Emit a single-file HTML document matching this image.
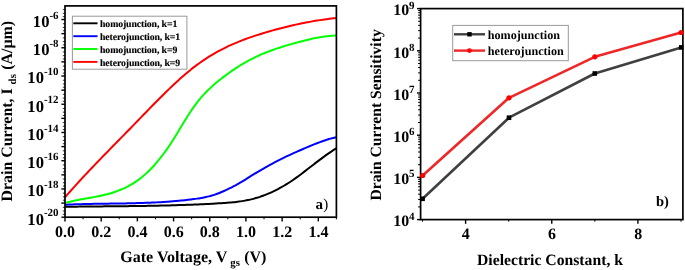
<!DOCTYPE html><html><head><meta charset="utf-8"><title>chart</title>
<style>html,body{margin:0;padding:0;background:#fff}svg{display:block;will-change:transform}text{font-family:"Liberation Serif",serif;font-weight:bold;fill:#000;text-rendering:geometricPrecision}</style></head><body>
<svg width="685" height="270" viewBox="0 0 685 270">
<rect width="685" height="270" fill="#fff"/>
<clipPath id="cl"><rect x="65.00" y="5.90" width="272.20" height="211.30"/></clipPath>
<g clip-path="url(#cl)" fill="none" stroke-width="2" stroke-linejoin="round">
<path d="M65.00,206.81 C65.50,206.80 67.00,206.77 68.00,206.76 C69.00,206.75 70.00,206.73 71.00,206.72 C72.00,206.71 73.00,206.69 74.00,206.68 C75.00,206.67 76.00,206.65 77.00,206.64 C78.00,206.63 79.00,206.62 80.00,206.61 C81.00,206.60 82.00,206.58 83.00,206.57 C84.00,206.56 85.00,206.55 86.00,206.54 C87.00,206.53 88.00,206.52 89.00,206.51 C90.00,206.50 91.00,206.49 92.00,206.48 C93.00,206.47 94.00,206.46 95.00,206.45 C96.00,206.44 97.00,206.43 98.00,206.42 C99.00,206.41 100.00,206.40 101.00,206.39 C102.00,206.38 103.00,206.38 104.00,206.37 C105.00,206.36 106.00,206.35 107.00,206.34 C108.00,206.33 109.00,206.32 110.00,206.31 C111.00,206.30 112.00,206.29 113.00,206.28 C114.00,206.27 115.00,206.26 116.00,206.25 C117.00,206.24 118.00,206.23 119.00,206.22 C120.00,206.21 121.00,206.20 122.00,206.19 C123.00,206.18 124.00,206.17 125.00,206.16 C126.00,206.15 127.00,206.14 128.00,206.13 C129.00,206.12 130.00,206.10 131.00,206.09 C132.00,206.08 133.00,206.06 134.00,206.05 C135.00,206.04 136.00,206.02 137.00,206.01 C138.00,206.00 139.00,205.98 140.00,205.97 C141.00,205.96 142.00,205.94 143.00,205.93 C144.00,205.92 145.00,205.90 146.00,205.88 C147.00,205.86 148.00,205.85 149.00,205.83 C150.00,205.81 151.00,205.80 152.00,205.78 C153.00,205.76 154.00,205.74 155.00,205.72 C156.00,205.70 157.00,205.68 158.00,205.66 C159.00,205.64 160.00,205.62 161.00,205.60 C162.00,205.58 163.00,205.55 164.00,205.53 C165.00,205.51 166.00,205.49 167.00,205.46 C168.00,205.44 169.00,205.41 170.00,205.38 C171.00,205.35 172.00,205.33 173.00,205.30 C174.00,205.27 175.00,205.24 176.00,205.21 C177.00,205.18 178.00,205.15 179.00,205.12 C180.00,205.09 181.00,205.05 182.00,205.02 C183.00,204.99 184.00,204.95 185.00,204.92 C186.00,204.88 187.00,204.85 188.00,204.81 C189.00,204.77 190.00,204.74 191.00,204.70 C192.00,204.66 193.00,204.62 194.00,204.58 C195.00,204.54 196.00,204.49 197.00,204.45 C198.00,204.41 199.00,204.36 200.00,204.32 C201.00,204.28 202.00,204.23 203.00,204.18 C204.00,204.13 205.00,204.08 206.00,204.03 C207.00,203.98 208.00,203.93 209.00,203.88 C210.00,203.83 211.00,203.78 212.00,203.72 C213.00,203.66 214.00,203.61 215.00,203.55 C216.00,203.49 217.00,203.43 218.00,203.37 C219.00,203.31 220.00,203.25 221.00,203.19 C222.00,203.13 223.00,203.06 224.00,202.99 C225.00,202.92 226.00,202.86 227.00,202.78 C228.00,202.70 229.00,202.62 230.00,202.53 C231.00,202.44 232.00,202.36 233.00,202.26 C234.00,202.16 235.00,202.05 236.00,201.93 C237.00,201.81 238.00,201.69 239.00,201.56 C240.00,201.43 241.00,201.28 242.00,201.13 C243.00,200.97 244.00,200.81 245.00,200.63 C246.00,200.45 247.00,200.26 248.00,200.06 C249.00,199.86 250.00,199.63 251.00,199.40 C252.00,199.17 253.00,198.92 254.00,198.65 C255.00,198.38 256.00,198.11 257.00,197.81 C258.00,197.51 259.00,197.20 260.00,196.86 C261.00,196.53 262.00,196.17 263.00,195.80 C264.00,195.43 265.00,195.05 266.00,194.65 C267.00,194.25 268.00,193.84 269.00,193.41 C270.00,192.98 271.00,192.52 272.00,192.06 C273.00,191.60 274.00,191.12 275.00,190.63 C276.00,190.14 277.00,189.63 278.00,189.10 C279.00,188.57 280.00,188.03 281.00,187.47 C282.00,186.91 283.00,186.34 284.00,185.75 C285.00,185.16 286.00,184.55 287.00,183.93 C288.00,183.31 289.00,182.67 290.00,182.01 C291.00,181.35 292.00,180.68 293.00,179.99 C294.00,179.30 295.00,178.60 296.00,177.88 C297.00,177.16 298.00,176.43 299.00,175.69 C300.00,174.95 301.00,174.20 302.00,173.44 C303.00,172.68 304.00,171.92 305.00,171.15 C306.00,170.38 307.00,169.61 308.00,168.83 C309.00,168.06 310.00,167.28 311.00,166.50 C312.00,165.72 313.00,164.94 314.00,164.17 C315.00,163.40 316.00,162.62 317.00,161.86 C318.00,161.10 319.00,160.34 320.00,159.59 C321.00,158.84 322.00,158.09 323.00,157.36 C324.00,156.63 325.00,155.90 326.00,155.19 C327.00,154.48 328.00,153.78 329.00,153.09 C330.00,152.41 331.00,151.74 332.00,151.08 C333.00,150.43 334.23,149.64 335.00,149.16 C335.77,148.68 336.33,148.34 336.60,148.18" stroke="#000"/>
<path d="M65.00,204.73 C65.50,204.71 67.00,204.64 68.00,204.60 C69.00,204.56 70.00,204.51 71.00,204.47 C72.00,204.43 73.00,204.40 74.00,204.36 C75.00,204.33 76.00,204.29 77.00,204.26 C78.00,204.23 79.00,204.20 80.00,204.17 C81.00,204.14 82.00,204.12 83.00,204.09 C84.00,204.06 85.00,204.04 86.00,204.02 C87.00,204.00 88.00,203.97 89.00,203.95 C90.00,203.93 91.00,203.91 92.00,203.89 C93.00,203.87 94.00,203.85 95.00,203.83 C96.00,203.81 97.00,203.80 98.00,203.78 C99.00,203.76 100.00,203.75 101.00,203.74 C102.00,203.73 103.00,203.70 104.00,203.69 C105.00,203.68 106.00,203.66 107.00,203.65 C108.00,203.64 109.00,203.62 110.00,203.61 C111.00,203.60 112.00,203.58 113.00,203.57 C114.00,203.56 115.00,203.54 116.00,203.52 C117.00,203.50 118.00,203.50 119.00,203.48 C120.00,203.46 121.00,203.45 122.00,203.43 C123.00,203.41 124.00,203.40 125.00,203.38 C126.00,203.36 127.00,203.34 128.00,203.32 C129.00,203.30 130.00,203.28 131.00,203.26 C132.00,203.24 133.00,203.22 134.00,203.19 C135.00,203.16 136.00,203.14 137.00,203.11 C138.00,203.08 139.00,203.06 140.00,203.03 C141.00,203.00 142.00,202.97 143.00,202.94 C144.00,202.91 145.00,202.87 146.00,202.83 C147.00,202.79 148.00,202.76 149.00,202.72 C150.00,202.68 151.00,202.63 152.00,202.59 C153.00,202.55 154.00,202.50 155.00,202.45 C156.00,202.40 157.00,202.35 158.00,202.30 C159.00,202.25 160.00,202.19 161.00,202.13 C162.00,202.07 163.00,202.00 164.00,201.94 C165.00,201.88 166.00,201.81 167.00,201.74 C168.00,201.67 169.00,201.61 170.00,201.53 C171.00,201.45 172.00,201.37 173.00,201.29 C174.00,201.21 175.00,201.12 176.00,201.03 C177.00,200.94 178.00,200.85 179.00,200.76 C180.00,200.66 181.00,200.56 182.00,200.46 C183.00,200.36 184.00,200.25 185.00,200.14 C186.00,200.03 187.00,199.92 188.00,199.80 C189.00,199.68 190.00,199.56 191.00,199.44 C192.00,199.31 193.00,199.19 194.00,199.05 C195.00,198.92 196.00,198.78 197.00,198.63 C198.00,198.48 199.00,198.34 200.00,198.18 C201.00,198.02 202.00,197.84 203.00,197.66 C204.00,197.47 205.00,197.28 206.00,197.07 C207.00,196.86 208.00,196.63 209.00,196.38 C210.00,196.13 211.00,195.86 212.00,195.57 C213.00,195.28 214.00,194.95 215.00,194.61 C216.00,194.27 217.00,193.90 218.00,193.51 C219.00,193.12 220.00,192.71 221.00,192.29 C222.00,191.87 223.00,191.42 224.00,190.97 C225.00,190.52 226.00,190.05 227.00,189.57 C228.00,189.09 229.00,188.61 230.00,188.11 C231.00,187.62 232.00,187.11 233.00,186.60 C234.00,186.09 235.00,185.59 236.00,185.06 C237.00,184.53 238.00,183.99 239.00,183.43 C240.00,182.87 241.00,182.29 242.00,181.68 C243.00,181.07 244.00,180.43 245.00,179.79 C246.00,179.15 247.00,178.48 248.00,177.83 C249.00,177.19 250.00,176.55 251.00,175.92 C252.00,175.29 253.00,174.68 254.00,174.07 C255.00,173.46 256.00,172.87 257.00,172.28 C258.00,171.69 259.00,171.10 260.00,170.52 C261.00,169.94 262.00,169.36 263.00,168.79 C264.00,168.22 265.00,167.65 266.00,167.09 C267.00,166.53 268.00,165.96 269.00,165.41 C270.00,164.86 271.00,164.31 272.00,163.77 C273.00,163.23 274.00,162.69 275.00,162.16 C276.00,161.63 277.00,161.11 278.00,160.60 C279.00,160.09 280.00,159.59 281.00,159.09 C282.00,158.59 283.00,158.10 284.00,157.62 C285.00,157.14 286.00,156.66 287.00,156.19 C288.00,155.72 289.00,155.25 290.00,154.79 C291.00,154.33 292.00,153.88 293.00,153.43 C294.00,152.98 295.00,152.53 296.00,152.09 C297.00,151.65 298.00,151.22 299.00,150.78 C300.00,150.34 301.00,149.91 302.00,149.48 C303.00,149.05 304.00,148.62 305.00,148.20 C306.00,147.77 307.00,147.35 308.00,146.93 C309.00,146.51 310.00,146.08 311.00,145.67 C312.00,145.25 313.00,144.84 314.00,144.44 C315.00,144.03 316.00,143.63 317.00,143.24 C318.00,142.85 319.00,142.47 320.00,142.10 C321.00,141.73 322.00,141.36 323.00,141.01 C324.00,140.66 325.00,140.31 326.00,139.99 C327.00,139.67 328.00,139.36 329.00,139.06 C330.00,138.76 331.00,138.47 332.00,138.21 C333.00,137.95 334.23,137.66 335.00,137.48 C335.77,137.30 336.33,137.19 336.60,137.13" stroke="#0000ff"/>
<path d="M65.00,203.01 C65.50,202.87 67.00,202.45 68.00,202.19 C69.00,201.93 70.00,201.69 71.00,201.45 C72.00,201.21 73.00,201.00 74.00,200.78 C75.00,200.56 76.00,200.36 77.00,200.16 C78.00,199.96 79.00,199.76 80.00,199.57 C81.00,199.38 82.00,199.20 83.00,199.02 C84.00,198.84 85.00,198.66 86.00,198.48 C87.00,198.30 88.00,198.13 89.00,197.95 C90.00,197.77 91.00,197.59 92.00,197.41 C93.00,197.23 94.00,197.05 95.00,196.86 C96.00,196.67 97.00,196.47 98.00,196.27 C99.00,196.07 100.00,195.87 101.00,195.65 C102.00,195.43 103.00,195.20 104.00,194.97 C105.00,194.74 106.00,194.50 107.00,194.24 C108.00,193.98 109.00,193.71 110.00,193.42 C111.00,193.13 112.00,192.84 113.00,192.52 C114.00,192.20 115.00,191.87 116.00,191.52 C117.00,191.17 118.00,190.81 119.00,190.42 C120.00,190.03 121.00,189.62 122.00,189.19 C123.00,188.76 124.00,188.31 125.00,187.83 C126.00,187.35 127.00,186.85 128.00,186.32 C129.00,185.79 130.00,185.24 131.00,184.66 C132.00,184.08 133.00,183.48 134.00,182.84 C135.00,182.20 136.00,181.53 137.00,180.83 C138.00,180.13 139.00,179.39 140.00,178.63 C141.00,177.87 142.00,177.07 143.00,176.24 C144.00,175.41 145.00,174.54 146.00,173.63 C147.00,172.72 148.00,171.78 149.00,170.80 C150.00,169.82 151.00,168.80 152.00,167.74 C153.00,166.69 154.00,165.60 155.00,164.47 C156.00,163.34 157.00,162.17 158.00,160.96 C159.00,159.75 160.00,158.52 161.00,157.24 C162.00,155.96 163.00,154.64 164.00,153.28 C165.00,151.92 166.00,150.53 167.00,149.10 C168.00,147.67 169.00,146.20 170.00,144.69 C171.00,143.18 172.00,141.63 173.00,140.06 C174.00,138.49 175.00,136.87 176.00,135.24 C177.00,133.61 178.00,131.95 179.00,130.30 C180.00,128.65 181.00,126.98 182.00,125.33 C183.00,123.68 184.00,122.02 185.00,120.39 C186.00,118.77 187.00,117.15 188.00,115.58 C189.00,114.01 190.00,112.45 191.00,110.95 C192.00,109.45 193.00,108.00 194.00,106.60 C195.00,105.20 196.00,103.86 197.00,102.57 C198.00,101.28 199.00,100.03 200.00,98.84 C201.00,97.65 202.00,96.51 203.00,95.40 C204.00,94.29 205.00,93.23 206.00,92.20 C207.00,91.17 208.00,90.18 209.00,89.22 C210.00,88.26 211.00,87.33 212.00,86.43 C213.00,85.53 214.00,84.66 215.00,83.81 C216.00,82.96 217.00,82.13 218.00,81.32 C219.00,80.51 220.00,79.71 221.00,78.93 C222.00,78.15 223.00,77.38 224.00,76.63 C225.00,75.88 226.00,75.13 227.00,74.40 C228.00,73.67 229.00,72.95 230.00,72.24 C231.00,71.53 232.00,70.84 233.00,70.16 C234.00,69.48 235.00,68.81 236.00,68.16 C237.00,67.51 238.00,66.87 239.00,66.24 C240.00,65.61 241.00,64.99 242.00,64.39 C243.00,63.79 244.00,63.21 245.00,62.63 C246.00,62.05 247.00,61.49 248.00,60.94 C249.00,60.39 250.00,59.85 251.00,59.33 C252.00,58.81 253.00,58.30 254.00,57.81 C255.00,57.32 256.00,56.83 257.00,56.36 C258.00,55.89 259.00,55.44 260.00,55.00 C261.00,54.56 262.00,54.12 263.00,53.70 C264.00,53.28 265.00,52.88 266.00,52.48 C267.00,52.08 268.00,51.69 269.00,51.31 C270.00,50.93 271.00,50.57 272.00,50.21 C273.00,49.85 274.00,49.50 275.00,49.16 C276.00,48.82 277.00,48.48 278.00,48.15 C279.00,47.82 280.00,47.50 281.00,47.19 C282.00,46.88 283.00,46.56 284.00,46.26 C285.00,45.95 286.00,45.66 287.00,45.36 C288.00,45.06 289.00,44.78 290.00,44.49 C291.00,44.20 292.00,43.92 293.00,43.64 C294.00,43.36 295.00,43.09 296.00,42.81 C297.00,42.54 298.00,42.26 299.00,41.99 C300.00,41.72 301.00,41.45 302.00,41.19 C303.00,40.93 304.00,40.66 305.00,40.41 C306.00,40.16 307.00,39.91 308.00,39.67 C309.00,39.43 310.00,39.19 311.00,38.96 C312.00,38.73 313.00,38.51 314.00,38.30 C315.00,38.09 316.00,37.88 317.00,37.69 C318.00,37.50 319.00,37.31 320.00,37.14 C321.00,36.97 322.00,36.80 323.00,36.65 C324.00,36.50 325.00,36.36 326.00,36.24 C327.00,36.12 328.00,36.00 329.00,35.91 C330.00,35.81 331.00,35.73 332.00,35.67 C333.00,35.61 334.23,35.55 335.00,35.52 C335.77,35.49 336.33,35.50 336.60,35.49" stroke="#00ff00"/>
<path d="M65.00,197.28 C65.50,196.71 67.00,194.98 68.00,193.85 C69.00,192.72 70.00,191.59 71.00,190.47 C72.00,189.35 73.00,188.23 74.00,187.12 C75.00,186.01 76.00,184.91 77.00,183.81 C78.00,182.71 79.00,181.62 80.00,180.53 C81.00,179.44 82.00,178.37 83.00,177.29 C84.00,176.21 85.00,175.14 86.00,174.07 C87.00,173.00 88.00,171.95 89.00,170.89 C90.00,169.83 91.00,168.77 92.00,167.72 C93.00,166.67 94.00,165.62 95.00,164.58 C96.00,163.54 97.00,162.50 98.00,161.46 C99.00,160.42 100.00,159.39 101.00,158.36 C102.00,157.33 103.00,156.30 104.00,155.27 C105.00,154.24 106.00,153.22 107.00,152.19 C108.00,151.16 109.00,150.14 110.00,149.12 C111.00,148.10 112.00,147.08 113.00,146.06 C114.00,145.04 115.00,144.02 116.00,143.00 C117.00,141.98 118.00,140.96 119.00,139.94 C120.00,138.92 121.00,137.91 122.00,136.89 C123.00,135.87 124.00,134.85 125.00,133.83 C126.00,132.81 127.00,131.78 128.00,130.76 C129.00,129.74 130.00,128.72 131.00,127.69 C132.00,126.66 133.00,125.64 134.00,124.61 C135.00,123.58 136.00,122.55 137.00,121.52 C138.00,120.49 139.00,119.44 140.00,118.41 C141.00,117.38 142.00,116.34 143.00,115.31 C144.00,114.28 145.00,113.24 146.00,112.21 C147.00,111.18 148.00,110.15 149.00,109.12 C150.00,108.09 151.00,107.06 152.00,106.04 C153.00,105.02 154.00,104.00 155.00,102.98 C156.00,101.96 157.00,100.95 158.00,99.94 C159.00,98.93 160.00,97.94 161.00,96.94 C162.00,95.94 163.00,94.95 164.00,93.96 C165.00,92.97 166.00,91.99 167.00,91.02 C168.00,90.05 169.00,89.08 170.00,88.13 C171.00,87.17 172.00,86.23 173.00,85.29 C174.00,84.35 175.00,83.42 176.00,82.50 C177.00,81.58 178.00,80.66 179.00,79.76 C180.00,78.86 181.00,77.98 182.00,77.10 C183.00,76.22 184.00,75.36 185.00,74.50 C186.00,73.64 187.00,72.80 188.00,71.97 C189.00,71.14 190.00,70.32 191.00,69.52 C192.00,68.72 193.00,67.93 194.00,67.16 C195.00,66.39 196.00,65.63 197.00,64.89 C198.00,64.15 199.00,63.42 200.00,62.71 C201.00,62.00 202.00,61.30 203.00,60.62 C204.00,59.94 205.00,59.27 206.00,58.62 C207.00,57.97 208.00,57.33 209.00,56.70 C210.00,56.08 211.00,55.47 212.00,54.87 C213.00,54.27 214.00,53.69 215.00,53.12 C216.00,52.55 217.00,52.00 218.00,51.45 C219.00,50.90 220.00,50.36 221.00,49.84 C222.00,49.32 223.00,48.81 224.00,48.31 C225.00,47.81 226.00,47.32 227.00,46.84 C228.00,46.36 229.00,45.90 230.00,45.44 C231.00,44.98 232.00,44.53 233.00,44.09 C234.00,43.65 235.00,43.23 236.00,42.81 C237.00,42.39 238.00,41.97 239.00,41.57 C240.00,41.17 241.00,40.77 242.00,40.39 C243.00,40.01 244.00,39.63 245.00,39.26 C246.00,38.89 247.00,38.52 248.00,38.16 C249.00,37.80 250.00,37.45 251.00,37.11 C252.00,36.77 253.00,36.43 254.00,36.10 C255.00,35.77 256.00,35.44 257.00,35.12 C258.00,34.80 259.00,34.49 260.00,34.18 C261.00,33.87 262.00,33.56 263.00,33.26 C264.00,32.96 265.00,32.66 266.00,32.36 C267.00,32.06 268.00,31.78 269.00,31.49 C270.00,31.20 271.00,30.92 272.00,30.64 C273.00,30.36 274.00,30.08 275.00,29.81 C276.00,29.54 277.00,29.27 278.00,29.00 C279.00,28.73 280.00,28.48 281.00,28.22 C282.00,27.96 283.00,27.70 284.00,27.45 C285.00,27.20 286.00,26.95 287.00,26.71 C288.00,26.47 289.00,26.23 290.00,25.99 C291.00,25.75 292.00,25.52 293.00,25.29 C294.00,25.06 295.00,24.84 296.00,24.62 C297.00,24.40 298.00,24.18 299.00,23.97 C300.00,23.76 301.00,23.55 302.00,23.35 C303.00,23.15 304.00,22.94 305.00,22.74 C306.00,22.54 307.00,22.36 308.00,22.17 C309.00,21.98 310.00,21.80 311.00,21.62 C312.00,21.44 313.00,21.26 314.00,21.09 C315.00,20.92 316.00,20.75 317.00,20.59 C318.00,20.43 319.00,20.27 320.00,20.12 C321.00,19.97 322.00,19.82 323.00,19.67 C324.00,19.53 325.00,19.39 326.00,19.25 C327.00,19.11 328.00,18.99 329.00,18.86 C330.00,18.73 331.00,18.61 332.00,18.49 C333.00,18.37 334.23,18.23 335.00,18.15 C335.77,18.06 336.33,18.01 336.60,17.98" stroke="#ff0000"/>
</g>
<g stroke="#000">
<line x1="61.40" y1="217.20" x2="65.00" y2="217.20" stroke-width="1.4"/>
<line x1="62.80" y1="214.30" x2="65.00" y2="214.30" stroke-width="0.8"/>
<line x1="62.80" y1="211.00" x2="65.00" y2="211.00" stroke-width="0.8"/>
<line x1="62.80" y1="207.30" x2="65.00" y2="207.30" stroke-width="0.8"/>
<line x1="61.40" y1="203.08" x2="65.00" y2="203.08" stroke-width="1.4"/>
<line x1="62.80" y1="200.18" x2="65.00" y2="200.18" stroke-width="0.8"/>
<line x1="62.80" y1="196.88" x2="65.00" y2="196.88" stroke-width="0.8"/>
<line x1="62.80" y1="193.18" x2="65.00" y2="193.18" stroke-width="0.8"/>
<line x1="61.40" y1="188.96" x2="65.00" y2="188.96" stroke-width="1.4"/>
<line x1="62.80" y1="186.06" x2="65.00" y2="186.06" stroke-width="0.8"/>
<line x1="62.80" y1="182.76" x2="65.00" y2="182.76" stroke-width="0.8"/>
<line x1="62.80" y1="179.06" x2="65.00" y2="179.06" stroke-width="0.8"/>
<line x1="61.40" y1="174.84" x2="65.00" y2="174.84" stroke-width="1.4"/>
<line x1="62.80" y1="171.94" x2="65.00" y2="171.94" stroke-width="0.8"/>
<line x1="62.80" y1="168.64" x2="65.00" y2="168.64" stroke-width="0.8"/>
<line x1="62.80" y1="164.94" x2="65.00" y2="164.94" stroke-width="0.8"/>
<line x1="61.40" y1="160.72" x2="65.00" y2="160.72" stroke-width="1.4"/>
<line x1="62.80" y1="157.82" x2="65.00" y2="157.82" stroke-width="0.8"/>
<line x1="62.80" y1="154.52" x2="65.00" y2="154.52" stroke-width="0.8"/>
<line x1="62.80" y1="150.82" x2="65.00" y2="150.82" stroke-width="0.8"/>
<line x1="61.40" y1="146.60" x2="65.00" y2="146.60" stroke-width="1.4"/>
<line x1="62.80" y1="143.70" x2="65.00" y2="143.70" stroke-width="0.8"/>
<line x1="62.80" y1="140.40" x2="65.00" y2="140.40" stroke-width="0.8"/>
<line x1="62.80" y1="136.70" x2="65.00" y2="136.70" stroke-width="0.8"/>
<line x1="61.40" y1="132.48" x2="65.00" y2="132.48" stroke-width="1.4"/>
<line x1="62.80" y1="129.58" x2="65.00" y2="129.58" stroke-width="0.8"/>
<line x1="62.80" y1="126.28" x2="65.00" y2="126.28" stroke-width="0.8"/>
<line x1="62.80" y1="122.58" x2="65.00" y2="122.58" stroke-width="0.8"/>
<line x1="61.40" y1="118.36" x2="65.00" y2="118.36" stroke-width="1.4"/>
<line x1="62.80" y1="115.46" x2="65.00" y2="115.46" stroke-width="0.8"/>
<line x1="62.80" y1="112.16" x2="65.00" y2="112.16" stroke-width="0.8"/>
<line x1="62.80" y1="108.46" x2="65.00" y2="108.46" stroke-width="0.8"/>
<line x1="61.40" y1="104.24" x2="65.00" y2="104.24" stroke-width="1.4"/>
<line x1="62.80" y1="101.34" x2="65.00" y2="101.34" stroke-width="0.8"/>
<line x1="62.80" y1="98.04" x2="65.00" y2="98.04" stroke-width="0.8"/>
<line x1="62.80" y1="94.34" x2="65.00" y2="94.34" stroke-width="0.8"/>
<line x1="61.40" y1="90.12" x2="65.00" y2="90.12" stroke-width="1.4"/>
<line x1="62.80" y1="87.22" x2="65.00" y2="87.22" stroke-width="0.8"/>
<line x1="62.80" y1="83.92" x2="65.00" y2="83.92" stroke-width="0.8"/>
<line x1="62.80" y1="80.22" x2="65.00" y2="80.22" stroke-width="0.8"/>
<line x1="61.40" y1="76.00" x2="65.00" y2="76.00" stroke-width="1.4"/>
<line x1="62.80" y1="73.10" x2="65.00" y2="73.10" stroke-width="0.8"/>
<line x1="62.80" y1="69.80" x2="65.00" y2="69.80" stroke-width="0.8"/>
<line x1="62.80" y1="66.10" x2="65.00" y2="66.10" stroke-width="0.8"/>
<line x1="61.40" y1="61.88" x2="65.00" y2="61.88" stroke-width="1.4"/>
<line x1="62.80" y1="58.98" x2="65.00" y2="58.98" stroke-width="0.8"/>
<line x1="62.80" y1="55.68" x2="65.00" y2="55.68" stroke-width="0.8"/>
<line x1="62.80" y1="51.98" x2="65.00" y2="51.98" stroke-width="0.8"/>
<line x1="61.40" y1="47.76" x2="65.00" y2="47.76" stroke-width="1.4"/>
<line x1="62.80" y1="44.86" x2="65.00" y2="44.86" stroke-width="0.8"/>
<line x1="62.80" y1="41.56" x2="65.00" y2="41.56" stroke-width="0.8"/>
<line x1="62.80" y1="37.86" x2="65.00" y2="37.86" stroke-width="0.8"/>
<line x1="61.40" y1="33.64" x2="65.00" y2="33.64" stroke-width="1.4"/>
<line x1="62.80" y1="30.74" x2="65.00" y2="30.74" stroke-width="0.8"/>
<line x1="62.80" y1="27.44" x2="65.00" y2="27.44" stroke-width="0.8"/>
<line x1="62.80" y1="23.74" x2="65.00" y2="23.74" stroke-width="0.8"/>
<line x1="61.40" y1="19.52" x2="65.00" y2="19.52" stroke-width="1.4"/>
<line x1="62.80" y1="16.62" x2="65.00" y2="16.62" stroke-width="0.8"/>
<line x1="62.80" y1="13.32" x2="65.00" y2="13.32" stroke-width="0.8"/>
<line x1="62.80" y1="9.62" x2="65.00" y2="9.62" stroke-width="0.8"/>
<line x1="65.00" y1="217.20" x2="65.00" y2="221.40" stroke-width="1.4"/>
<line x1="83.09" y1="217.20" x2="83.09" y2="219.30" stroke-width="1.0"/>
<line x1="101.19" y1="217.20" x2="101.19" y2="221.40" stroke-width="1.4"/>
<line x1="119.28" y1="217.20" x2="119.28" y2="219.30" stroke-width="1.0"/>
<line x1="137.37" y1="217.20" x2="137.37" y2="221.40" stroke-width="1.4"/>
<line x1="155.47" y1="217.20" x2="155.47" y2="219.30" stroke-width="1.0"/>
<line x1="173.56" y1="217.20" x2="173.56" y2="221.40" stroke-width="1.4"/>
<line x1="191.65" y1="217.20" x2="191.65" y2="219.30" stroke-width="1.0"/>
<line x1="209.75" y1="217.20" x2="209.75" y2="221.40" stroke-width="1.4"/>
<line x1="227.84" y1="217.20" x2="227.84" y2="219.30" stroke-width="1.0"/>
<line x1="245.93" y1="217.20" x2="245.93" y2="221.40" stroke-width="1.4"/>
<line x1="264.03" y1="217.20" x2="264.03" y2="219.30" stroke-width="1.0"/>
<line x1="282.12" y1="217.20" x2="282.12" y2="221.40" stroke-width="1.4"/>
<line x1="300.21" y1="217.20" x2="300.21" y2="219.30" stroke-width="1.0"/>
<line x1="318.31" y1="217.20" x2="318.31" y2="221.40" stroke-width="1.4"/>
<line x1="336.40" y1="217.20" x2="336.40" y2="219.30" stroke-width="1.0"/>
</g>
<rect x="65.00" y="5.90" width="271.40" height="211.30" fill="none" stroke="#000" stroke-width="1.70"/>
<text x="58.6" y="224.50" text-anchor="end" font-size="16.6"><tspan>10</tspan><tspan font-size="11" dy="-8.2">-20</tspan></text>
<text x="58.6" y="196.26" text-anchor="end" font-size="16.6"><tspan>10</tspan><tspan font-size="11" dy="-8.2">-18</tspan></text>
<text x="58.6" y="168.02" text-anchor="end" font-size="16.6"><tspan>10</tspan><tspan font-size="11" dy="-8.2">-16</tspan></text>
<text x="58.6" y="139.78" text-anchor="end" font-size="16.6"><tspan>10</tspan><tspan font-size="11" dy="-8.2">-14</tspan></text>
<text x="58.6" y="111.54" text-anchor="end" font-size="16.6"><tspan>10</tspan><tspan font-size="11" dy="-8.2">-12</tspan></text>
<text x="58.6" y="83.30" text-anchor="end" font-size="16.6"><tspan>10</tspan><tspan font-size="11" dy="-8.2">-10</tspan></text>
<text x="58.6" y="55.06" text-anchor="end" font-size="16.6"><tspan>10</tspan><tspan font-size="11" dy="-8.2">-8</tspan></text>
<text x="58.6" y="26.82" text-anchor="end" font-size="16.6"><tspan>10</tspan><tspan font-size="11" dy="-8.2">-6</tspan></text>
<text x="65.10" y="236.9" text-anchor="middle" font-size="16.0">0.0</text>
<text x="101.29" y="236.9" text-anchor="middle" font-size="16.0">0.2</text>
<text x="137.47" y="236.9" text-anchor="middle" font-size="16.0">0.4</text>
<text x="173.66" y="236.9" text-anchor="middle" font-size="16.0">0.6</text>
<text x="209.85" y="236.9" text-anchor="middle" font-size="16.0">0.8</text>
<text x="246.03" y="236.9" text-anchor="middle" font-size="16.0">1.0</text>
<text x="282.22" y="236.9" text-anchor="middle" font-size="16.0">1.2</text>
<text x="318.41" y="236.9" text-anchor="middle" font-size="16.0">1.4</text>
<text x="120.3" y="261.7" font-size="16.05">Gate Voltage, V <tspan font-size="10.8" dy="4" dx="-0.7">gs</tspan><tspan dy="-4" dx="0.2"> (V)</tspan></text>
<text transform="translate(11.6,201.5) rotate(-90)" font-size="15.9">Drain Current, I <tspan font-size="10.8" dy="4.2">ds</tspan><tspan dy="-4.2" dx="0.4"> (A/µm)</tspan></text>
<text x="315.5" y="209.3" font-size="15">a<tspan font-weight="normal" dx="0.2">)</tspan></text>
<rect x="72.4" y="16.2" width="114.5" height="53.0" fill="#fff" stroke="#999" stroke-width="1"/>
<line x1="73.3" y1="23.30" x2="97.5" y2="23.30" stroke="#000" stroke-width="1.9"/>
<text x="100.0" y="27.20" font-size="9.8" letter-spacing="-0.11" stroke="#000" stroke-width="0.15">homojunction, k=1</text>
<line x1="73.3" y1="36.20" x2="97.5" y2="36.20" stroke="#0000ff" stroke-width="1.9"/>
<text x="100.0" y="40.00" font-size="9.8" letter-spacing="-0.11" stroke="#000" stroke-width="0.15">heterojunction, k=1</text>
<line x1="73.3" y1="49.00" x2="97.5" y2="49.00" stroke="#00ff00" stroke-width="1.9"/>
<text x="100.0" y="52.90" font-size="9.8" letter-spacing="-0.11" stroke="#000" stroke-width="0.15">homojunction, k=9</text>
<line x1="73.3" y1="61.90" x2="97.5" y2="61.90" stroke="#ff0000" stroke-width="1.9"/>
<text x="100.0" y="65.70" font-size="9.8" letter-spacing="-0.11" stroke="#000" stroke-width="0.15">heterojunction, k=9</text>
<polyline points="422.60,198.80 509.00,117.70 594.80,73.50 681.20,47.40" fill="none" stroke="#404040" stroke-width="2.6" stroke-linejoin="round"/>
<polyline points="422.70,175.50 509.00,97.80 594.80,56.80 681.10,32.50" fill="none" stroke="#ee2828" stroke-width="2.6" stroke-linejoin="round"/>
<g stroke="#000">
<line x1="417.00" y1="219.60" x2="420.60" y2="219.60" stroke-width="1.4"/>
<line x1="418.10" y1="206.90" x2="420.60" y2="206.90" stroke-width="1.0"/>
<line x1="418.10" y1="199.47" x2="420.60" y2="199.47" stroke-width="1.0"/>
<line x1="418.10" y1="194.19" x2="420.60" y2="194.19" stroke-width="1.0"/>
<line x1="418.10" y1="190.10" x2="420.60" y2="190.10" stroke-width="1.0"/>
<line x1="418.10" y1="186.76" x2="420.60" y2="186.76" stroke-width="1.0"/>
<line x1="418.10" y1="183.94" x2="420.60" y2="183.94" stroke-width="1.0"/>
<line x1="418.10" y1="181.49" x2="420.60" y2="181.49" stroke-width="1.0"/>
<line x1="418.10" y1="179.33" x2="420.60" y2="179.33" stroke-width="1.0"/>
<line x1="417.00" y1="177.40" x2="420.60" y2="177.40" stroke-width="1.4"/>
<line x1="418.10" y1="164.70" x2="420.60" y2="164.70" stroke-width="1.0"/>
<line x1="418.10" y1="157.27" x2="420.60" y2="157.27" stroke-width="1.0"/>
<line x1="418.10" y1="151.99" x2="420.60" y2="151.99" stroke-width="1.0"/>
<line x1="418.10" y1="147.90" x2="420.60" y2="147.90" stroke-width="1.0"/>
<line x1="418.10" y1="144.56" x2="420.60" y2="144.56" stroke-width="1.0"/>
<line x1="418.10" y1="141.74" x2="420.60" y2="141.74" stroke-width="1.0"/>
<line x1="418.10" y1="139.29" x2="420.60" y2="139.29" stroke-width="1.0"/>
<line x1="418.10" y1="137.13" x2="420.60" y2="137.13" stroke-width="1.0"/>
<line x1="417.00" y1="135.20" x2="420.60" y2="135.20" stroke-width="1.4"/>
<line x1="418.10" y1="122.50" x2="420.60" y2="122.50" stroke-width="1.0"/>
<line x1="418.10" y1="115.07" x2="420.60" y2="115.07" stroke-width="1.0"/>
<line x1="418.10" y1="109.79" x2="420.60" y2="109.79" stroke-width="1.0"/>
<line x1="418.10" y1="105.70" x2="420.60" y2="105.70" stroke-width="1.0"/>
<line x1="418.10" y1="102.36" x2="420.60" y2="102.36" stroke-width="1.0"/>
<line x1="418.10" y1="99.54" x2="420.60" y2="99.54" stroke-width="1.0"/>
<line x1="418.10" y1="97.09" x2="420.60" y2="97.09" stroke-width="1.0"/>
<line x1="418.10" y1="94.93" x2="420.60" y2="94.93" stroke-width="1.0"/>
<line x1="417.00" y1="93.00" x2="420.60" y2="93.00" stroke-width="1.4"/>
<line x1="418.10" y1="80.30" x2="420.60" y2="80.30" stroke-width="1.0"/>
<line x1="418.10" y1="72.87" x2="420.60" y2="72.87" stroke-width="1.0"/>
<line x1="418.10" y1="67.59" x2="420.60" y2="67.59" stroke-width="1.0"/>
<line x1="418.10" y1="63.50" x2="420.60" y2="63.50" stroke-width="1.0"/>
<line x1="418.10" y1="60.16" x2="420.60" y2="60.16" stroke-width="1.0"/>
<line x1="418.10" y1="57.34" x2="420.60" y2="57.34" stroke-width="1.0"/>
<line x1="418.10" y1="54.89" x2="420.60" y2="54.89" stroke-width="1.0"/>
<line x1="418.10" y1="52.73" x2="420.60" y2="52.73" stroke-width="1.0"/>
<line x1="417.00" y1="50.80" x2="420.60" y2="50.80" stroke-width="1.4"/>
<line x1="418.10" y1="38.10" x2="420.60" y2="38.10" stroke-width="1.0"/>
<line x1="418.10" y1="30.67" x2="420.60" y2="30.67" stroke-width="1.0"/>
<line x1="418.10" y1="25.39" x2="420.60" y2="25.39" stroke-width="1.0"/>
<line x1="418.10" y1="21.30" x2="420.60" y2="21.30" stroke-width="1.0"/>
<line x1="418.10" y1="17.96" x2="420.60" y2="17.96" stroke-width="1.0"/>
<line x1="418.10" y1="15.14" x2="420.60" y2="15.14" stroke-width="1.0"/>
<line x1="418.10" y1="12.69" x2="420.60" y2="12.69" stroke-width="1.0"/>
<line x1="418.10" y1="10.53" x2="420.60" y2="10.53" stroke-width="1.0"/>
<line x1="417.00" y1="8.60" x2="420.60" y2="8.60" stroke-width="1.4"/>
<line x1="422.52" y1="219.60" x2="422.52" y2="221.70" stroke-width="1.0"/>
<line x1="465.60" y1="219.60" x2="465.60" y2="223.80" stroke-width="1.4"/>
<line x1="508.68" y1="219.60" x2="508.68" y2="221.70" stroke-width="1.0"/>
<line x1="551.76" y1="219.60" x2="551.76" y2="223.80" stroke-width="1.4"/>
<line x1="594.84" y1="219.60" x2="594.84" y2="221.70" stroke-width="1.0"/>
<line x1="637.92" y1="219.60" x2="637.92" y2="223.80" stroke-width="1.4"/>
<line x1="681.00" y1="219.60" x2="681.00" y2="221.70" stroke-width="1.0"/>
</g>
<rect x="420.60" y="8.60" width="262.30" height="211.00" fill="none" stroke="#000" stroke-width="1.70"/>
<rect x="420.30" y="196.50" width="4.6" height="4.6" fill="#000"/>
<rect x="506.70" y="115.40" width="4.6" height="4.6" fill="#000"/>
<rect x="592.50" y="71.20" width="4.6" height="4.6" fill="#000"/>
<rect x="678.90" y="45.10" width="4.6" height="4.6" fill="#000"/>
<circle cx="422.70" cy="175.50" r="2.6" fill="#ff0000"/>
<circle cx="509.00" cy="97.80" r="2.6" fill="#ff0000"/>
<circle cx="594.80" cy="56.80" r="2.6" fill="#ff0000"/>
<circle cx="681.10" cy="32.50" r="2.6" fill="#ff0000"/>
<text x="414.6" y="226.30" text-anchor="end" font-size="15.9"><tspan>10</tspan><tspan font-size="11" dy="-6.8">4</tspan></text>
<text x="414.6" y="184.10" text-anchor="end" font-size="15.9"><tspan>10</tspan><tspan font-size="11" dy="-6.8">5</tspan></text>
<text x="414.6" y="141.90" text-anchor="end" font-size="15.9"><tspan>10</tspan><tspan font-size="11" dy="-6.8">6</tspan></text>
<text x="414.6" y="99.70" text-anchor="end" font-size="15.9"><tspan>10</tspan><tspan font-size="11" dy="-6.8">7</tspan></text>
<text x="414.6" y="57.50" text-anchor="end" font-size="15.9"><tspan>10</tspan><tspan font-size="11" dy="-6.8">8</tspan></text>
<text x="414.6" y="15.30" text-anchor="end" font-size="15.9"><tspan>10</tspan><tspan font-size="11" dy="-6.8">9</tspan></text>
<text x="465.80" y="239.0" text-anchor="middle" font-size="15.9">4</text>
<text x="551.96" y="239.0" text-anchor="middle" font-size="15.9">6</text>
<text x="638.12" y="239.0" text-anchor="middle" font-size="15.9">8</text>
<text x="477" y="265.2" font-size="15.7">Dielectric Constant, k</text>
<text transform="translate(380.5,200.6) rotate(-90)" font-size="15.7">Drain Current Sensitivity</text>
<text x="656.0" y="206.2" font-size="14.5">b)</text>
<rect x="452.7" y="25.4" width="115.6" height="35.3" fill="#fff" stroke="#999" stroke-width="1"/>
<line x1="454" y1="34.3" x2="485" y2="34.3" stroke="#404040" stroke-width="2.4"/>
<rect x="467.3" y="32.1" width="4.4" height="4.4" fill="#000"/>
<text x="487.8" y="38.6" font-size="12.15">homojunction</text>
<line x1="454" y1="50.6" x2="485" y2="50.6" stroke="#ee2828" stroke-width="2.4"/>
<circle cx="469.5" cy="50.6" r="2.4" fill="#ff0000"/>
<text x="487.8" y="54.9" font-size="12.15">heterojunction</text>
</svg></body></html>
